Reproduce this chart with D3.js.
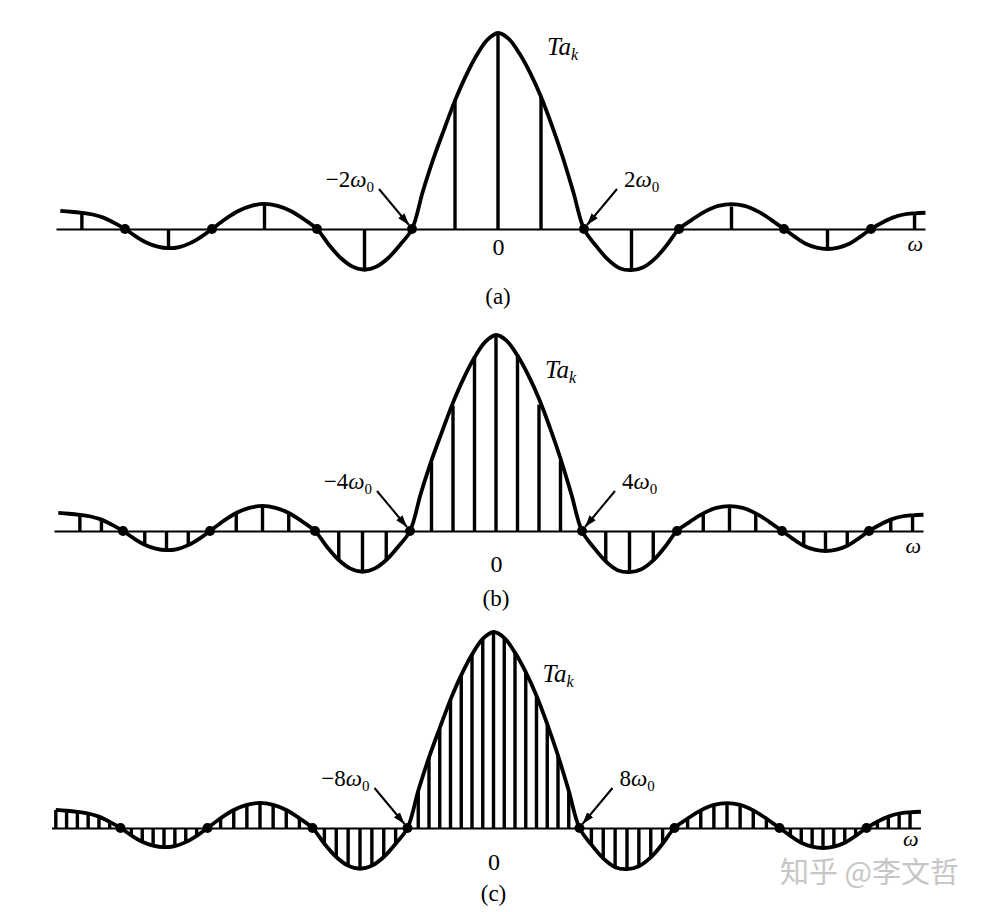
<!DOCTYPE html>
<html>
<head>
<meta charset="utf-8">
<script src="https://cdn.jsdelivr.net/npm/d3@7"></script>
<style>
  body { margin: 0; background: #fff; }
  text { font-family: "Liberation Serif", "Times New Roman", serif; fill: #000; }
</style>
</head>
<body>
<script>
// omega is measured in units of pi/T1, so the first zero of the envelope sits at 1

// envelope T*a(omega), knots every 1/8 unit from -4.75 to 4.625
var envIndex = d3.range(-38, 38);
var envValue = [
  0.092, 0.088, 0.082, 0.074, 0.058, 0.031, 0,
  -0.038, -0.07, -0.09, -0.098, -0.092, -0.072, -0.04, 0,
  0.05, 0.092, 0.118, 0.128, 0.118, 0.092, 0.05, 0,
  -0.08, -0.148, -0.192, -0.208, -0.192, -0.148, -0.08, 0,
  0.19, 0.36, 0.51, 0.655, 0.78, 0.885, 0.965,
  1,
  0.97, 0.895, 0.795, 0.675, 0.53, 0.37, 0.19, 0,
  -0.085, -0.155, -0.2, -0.21, -0.195, -0.15, -0.08, 0,
  0.048, 0.09, 0.118, 0.127, 0.118, 0.09, 0.048, 0,
  -0.04, -0.075, -0.095, -0.102, -0.095, -0.075, -0.04, 0,
  0.032, 0.058, 0.074, 0.08, 0.083
];

// (a) T = 4T1, omega0 = 1/2
var harmonicsA = d3.range(-9, 10);
var samplesA = [0.082, 0, -0.098, 0, 0.128, 0, -0.208, 0, 0.66, 1, 0.68, 0, -0.21, 0, 0.115, 0, -0.102, 0, 0.08];

// (b) T = 8T1, omega0 = 1/4
var harmonicsB = d3.range(-18, 19);
var samplesB = [
  0.08, 0.058, 0, -0.07, -0.098, -0.072, 0, 0.09, 0.125, 0.09, 0,
  -0.15, -0.21, -0.15, 0, 0.35, 0.64, 0.89,
  1,
  0.9, 0.645, 0.36, 0, -0.155, -0.21, -0.15, 0,
  0.085, 0.117, 0.085, 0, -0.075, -0.1, -0.075, 0, 0.058, 0.072
];

// (c) T = 16T1, omega0 = 1/8
var harmonicsC = d3.range(-38, 37);
var samplesC = [
  0.092, 0.088, 0.082, 0.074, 0.058, 0.031, 0,
  -0.038, -0.07, -0.09, -0.098, -0.092, -0.072, -0.04, 0,
  0.05, 0.092, 0.118, 0.128, 0.118, 0.092, 0.05, 0,
  -0.08, -0.148, -0.192, -0.208, -0.192, -0.148, -0.08, 0,
  0.19, 0.36, 0.51, 0.655, 0.78, 0.885, 0.965,
  1,
  0.97, 0.895, 0.795, 0.675, 0.53, 0.37, 0.19, 0,
  -0.085, -0.155, -0.2, -0.21, -0.195, -0.15, -0.08, 0,
  0.048, 0.09, 0.118, 0.127, 0.118, 0.09, 0.048, 0,
  -0.04, -0.075, -0.095, -0.102, -0.095, -0.075, -0.04, 0,
  0.032, 0.058, 0.074, 0.08
];

var captions = ["(a)", "(b)", "(c)"];
var zeroLabels = ["2", "4", "8"];
var watermark = "知乎 @李文哲";

var panels = [
  {step: 1/2, k: harmonicsA, v: samplesA, cx: 498,   base: 229, zeroPad: 9,  takDy: -174, omegaDy: 22, capDy: 75},
  {step: 1/4, k: harmonicsB, v: samplesB, cx: 496,   base: 531, zeroPad: 24, takDy: -153, omegaDy: 22, capDy: 75},
  {step: 1/8, k: harmonicsC, v: samplesC, cx: 493.5, base: 828, zeroPad: 25, takDy: -146, omegaDy: 18, capDy: 73}
];

var svg = d3.select("body").append("svg")
    .attr("width", 990)
    .attr("height", 912);

svg.append("defs").append("marker")
    .attr("id", "arrow")
    .attr("markerUnits", "userSpaceOnUse")
    .attr("viewBox", "0 0 12 8")
    .attr("refX", 12)
    .attr("refY", 4)
    .attr("markerWidth", 12)
    .attr("markerHeight", 8)
    .attr("orient", "auto")
  .append("path")
    .attr("d", "M0,0L12,4L0,8Z")
    .attr("fill", "#000");

// the drawing's frequency axis is slightly uneven, so pin each zero crossing
var x = d3.scaleLinear()
    .domain([-4.8, -4, -3, -2, -1, 0, 1, 2, 3, 4, 4.62])
    .range([-442, -373, -286, -181, -86, 0, 86, 181, 286, 373, 427]);
var y = d3.scaleLinear()
    .domain([0, 1])
    .range([0, -196]);

var envPoints = envIndex.map(function(k, i) { return [k / 8, envValue[i]]; });
var envLine = d3.line()
    .x(function(d) { return x(d[0]); })
    .y(function(d) { return y(d[1]); })
    .curve(d3.curveCatmullRom.alpha(0.5));

panels.forEach(function(p, pi) {
  var g = svg.append("g")
      .attr("transform", "translate(" + p.cx + "," + p.base + ")");

  // axis line with the single "0" label
  var axis = g.append("g")
      .call(d3.axisBottom(x)
        .tickValues([0])
        .tickSize(0)
        .tickSizeOuter(0)
        .tickPadding(p.zeroPad)
        .tickFormat(d3.format("d")));
  axis.attr("font-family", null).attr("font-size", null);
  axis.select(".domain").attr("stroke", "#000").attr("stroke-width", 2.2);
  axis.selectAll(".tick text").style("font-size", "24px");

  // spectral lines
  g.selectAll(".sample")
      .data(p.k)
    .enter().append("line")
      .attr("class", "sample")
      .attr("x1", function(k) { return x(k * p.step); })
      .attr("x2", function(k) { return x(k * p.step); })
      .attr("y1", y(0))
      .attr("y2", function(k, i) { return y(p.v[i]); })
      .attr("stroke", "#000")
      .attr("stroke-width", 3.4);

  // envelope
  g.append("path")
      .attr("d", envLine(envPoints))
      .attr("fill", "none")
      .attr("stroke", "#000")
      .attr("stroke-width", 3.8);

  // dots where a_k = 0
  var zeros = p.k.filter(function(k, i) { return k !== 0 && p.v[i] === 0; });
  g.selectAll(".dot")
      .data(zeros)
    .enter().append("circle")
      .attr("class", "dot")
      .attr("cx", function(k) { return x(k * p.step); })
      .attr("cy", y(0))
      .attr("r", 5)
      .attr("fill", "#000");

  // Ta_k label
  var tak = g.append("text")
      .attr("x", 49)
      .attr("y", p.takDy)
      .style("font-size", "25px")
      .style("font-style", "italic");
  tak.append("tspan").text("Ta");
  tak.append("tspan").attr("dy", 5).style("font-size", "16px").text("k");

  // first-zero labels with arrows
  [-1, 1].forEach(function(s) {
    var zx = x(s);
    g.append("line")
        .attr("x1", zx + s * 33)
        .attr("y1", -40)
        .attr("x2", zx + s * 3)
        .attr("y2", -4)
        .attr("stroke", "#000")
        .attr("stroke-width", 2)
        .attr("marker-end", "url(#arrow)");
    var lab = g.append("text")
        .attr("x", zx + (s < 0 ? -38 : 40))
        .attr("y", -42)
        .attr("text-anchor", s < 0 ? "end" : "start")
        .style("font-size", "23px");
    lab.append("tspan").text((s < 0 ? "\u2212" : "") + zeroLabels[pi]);
    lab.append("tspan").style("font-style", "italic").text("\u03c9");
    lab.append("tspan").attr("dy", 5).style("font-size", "15px").text("0");
  });

  // omega at axis end
  g.append("text")
      .attr("x", x(4.62) - 2)
      .attr("y", p.omegaDy)
      .attr("text-anchor", "end")
      .style("font-size", "22px")
      .style("font-style", "italic")
      .text("\u03c9");

  // caption
  g.append("text")
      .attr("x", 0)
      .attr("y", p.capDy)
      .attr("text-anchor", "middle")
      .style("font-size", "23px")
      .text(captions[pi]);
});

svg.append("text")
    .attr("x", 780)
    .attr("y", 883)
    .style("font-family", "\"Noto Sans CJK SC\", sans-serif")
    .style("font-size", "29px")
    .style("fill", "#c6c6c6")
    .text(watermark);
</script>
</body>
</html>
